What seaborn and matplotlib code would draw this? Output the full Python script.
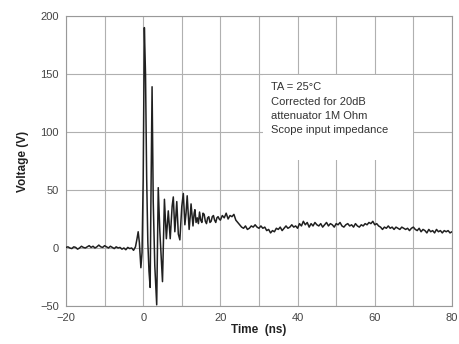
import matplotlib
matplotlib.use("Agg")
import matplotlib.pyplot as plt
from matplotlib.patches import Rectangle
from matplotlib.ticker import MultipleLocator
import numpy as np
import pandas as pd
import seaborn as sns

# pre-trigger baseline, -20 .. -2.5 ns every 0.5 ns
pre_time = np.arange(-20.0, -2.4, 0.5)
pre_volt = [0.5, 1.0, 0.0, -0.5, 1.0, 0.5, -1.0, 0.0, 1.5, 0.5, 0.0, 1.0,
            2.0, 0.5, 1.5, 0.0, 1.0, 2.5, 1.0, 0.5, 2.0, 1.0, 0.0, 1.5,
            0.5, -0.5, 1.0, 0.0, 0.5, -1.0, 0.0, -1.5, 0.5, -0.5, 0.0, -2.0]

# ringing burst
burst_time = [-2.0, -1.6, -1.3, -1.0, -0.6, -0.3, 0.0, 0.3, 0.6, 0.9, 1.2, 1.5,
              1.8, 2.0, 2.3, 2.6, 3.0, 3.5, 3.9, 4.3, 4.7, 5.0, 5.5, 6.0, 6.5,
              7.0, 7.5, 7.8, 8.2, 8.7, 9.1, 9.5, 10.0, 10.4, 10.8, 11.1, 11.4,
              11.9, 12.2, 12.4, 12.9, 13.2, 13.4, 13.7, 14.0, 14.3, 14.6, 14.9,
              15.2, 15.5, 15.8, 16.1, 16.4, 16.7, 17.0, 17.3, 17.6, 17.9, 18.2,
              18.5, 18.8, 19.1, 19.4, 19.7]
burst_volt = [1, 8, 14, 5, -17, -4, 60, 190, 150, 60, 5, -20,
              -34, 40, 139, 40, -15, -49, 52, 15, -10, -29, 42, 8, 32,
              8, 36, 44, 14, 40, 12, 7, 36, 47, 20, 30, 45,
              16, 28, 38, 19, 30, 33, 22, 26, 21, 31, 24,
              22, 30, 29, 23, 21, 26, 27, 22, 23, 27, 28,
              24, 22, 26, 27, 25]

# tail, 20 .. 80 ns every 0.5 ns
tail_time = np.arange(20.0, 80.1, 0.5)
tail_volt = [24, 28, 26, 30, 25, 28, 27, 29, 24, 22,
             20, 18, 17, 19, 16, 17, 19, 18, 20, 18,
             17, 19, 17, 18, 15, 16, 13, 15, 14, 17,
             16, 18, 15, 17, 19, 17, 18, 20, 18, 19,
             17, 21, 19, 23, 20, 22, 18, 21, 19, 22,
             20, 19, 21, 18, 20, 22, 19, 21, 20, 18,
             21, 20, 22, 19, 18, 20, 21, 19, 20, 18,
             21, 19, 18, 20, 19, 21, 20, 22, 21, 23,
             20, 21, 19, 18, 16, 18, 17, 19, 17, 18,
             16, 18, 17, 16, 18, 17, 16, 17, 15, 17,
             18, 16, 15, 17, 14, 16, 15, 13, 16, 14,
             15, 13, 16, 14, 15, 13, 15, 14, 15, 13, 14]

note = "TA = 25°C\nCorrected for 20dB\nattenuator 1M Ohm\nScope input impedance"

df = pd.DataFrame({
    "time": np.concatenate([pre_time, burst_time, tail_time]),
    "volt": np.concatenate([pre_volt, burst_volt, tail_volt]),
})

sns.set_style("whitegrid")
plt.rcParams["font.family"] = ["Liberation Sans", "DejaVu Sans"]

fig = plt.figure(figsize=(4.6, 3.44), dpi=100)
ax = fig.add_axes([0.1435, 0.1105, 0.839, 0.843])

sns.lineplot(data=df, x="time", y="volt", estimator=None, sort=False,
             color="#202020", linewidth=1.1, ax=ax, zorder=3)

ax.set_xlim(-20, 80)
ax.set_ylim(-50, 200)
ax.xaxis.set_major_locator(MultipleLocator(20))
ax.xaxis.set_minor_locator(MultipleLocator(10))
ax.yaxis.set_major_locator(MultipleLocator(50))
ax.grid(which="both", axis="x", color="#b0b0b0", linewidth=0.8)
ax.grid(which="major", axis="y", color="#b0b0b0", linewidth=0.8)
ax.tick_params(which="major", length=3, color="#888888", labelsize=8,
               labelcolor="#444444", pad=2)
ax.tick_params(which="minor", length=0)
for s in ax.spines.values():
    s.set_color("#999999")
    s.set_linewidth(0.8)

# white note box
ax.add_patch(Rectangle((31, 76), 39, 73, facecolor="white", edgecolor="none", zorder=2))
ax.text(33, 143, note, fontsize=8, color="#333333", va="top", ha="left",
        linespacing=1.55, zorder=4)

ax.set_xlabel("Time  (ns)", fontsize=8.5, fontweight="bold", color="#222222", labelpad=1)
ax.set_ylabel("Voltage (V)", fontsize=8.5, fontweight="bold", color="#222222", labelpad=8)

fig.savefig("out.png", dpi=100)
